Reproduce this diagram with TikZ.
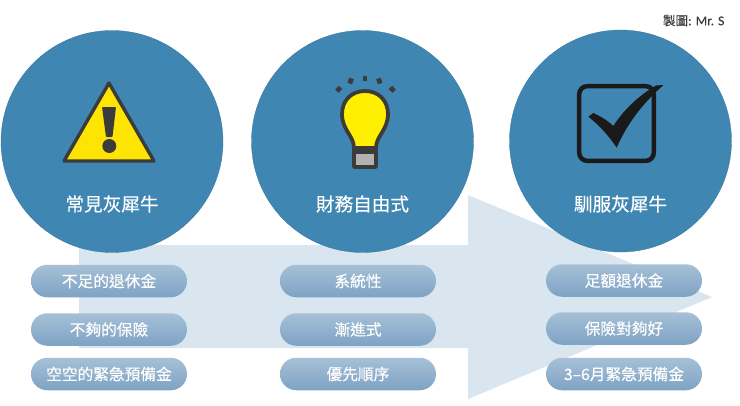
\documentclass[tikz,border=0pt]{standalone}
\usepackage{fontspec}
\setmainfont[FakeBold=0.25]{Noto Sans CJK TC}
\newfontfamily\latinf[FakeBold=0.2]{Carlito}
\definecolor{circ}{HTML}{3F87B2}
\definecolor{arrowc}{HTML}{DAE6EF}
\definecolor{pilltop}{HTML}{A6C0D7}
\definecolor{pillbot}{HTML}{7EA3C4}
\definecolor{ink}{HTML}{3B3B3B}
\definecolor{blk}{HTML}{1A1A1A}
\tikzset{
  bigcirc/.style={circle,fill=circ,draw=circ!85!black,line width=.3pt,minimum size=222pt,inner sep=0pt},
  title/.style={text=white,font=\fontsize{18.6pt}{20pt}\selectfont,inner sep=0pt},
  pill/.style={rounded corners=16.2pt,top color=pilltop,bottom color=pillbot,draw=none,minimum width=156pt,minimum height=32.5pt,inner sep=0pt,text=white,font=\fontsize{15.7pt}{18pt}\selectfont},
  credit/.style={text=ink,font=\fontsize{12.5pt}{14pt}\selectfont,inner sep=0pt}
}
\begin{document}
\begin{tikzpicture}[x=1pt,y=-1pt]
\useasboundingbox (0,0) rectangle (740,405);
\fill[white] (0,0) rectangle (740,405);
\fill[arrowc] (79,245) -- (468,245) -- (468,195) -- (712,297) -- (468,399) -- (468,348) -- (79,348) -- cycle;
\node[bigcirc] (c1) at (112,141.5) {};
\node[bigcirc] (c2) at (362.5,141.5) {};
\node[bigcirc] (c3) at (620.5,141) {};
% warning icon
\draw[fill=yellow!87!orange,draw=ink,line width=3.4pt,line join=round] (109,83) -- (154,161) -- (64,161) -- cycle;
\fill[ink,rounded corners=.8pt] (102,107) -- (116,107) -- (112.5,137) -- (106,137) -- cycle;
\fill[ink] (109.3,146) circle (7);
% bulb icon
\draw[fill=yellow!97!orange,draw=ink,line width=3.8pt,line join=round]
  (354,148) .. controls (354,136) and (342,130) .. (342,114)
  .. controls (342,100) and (352,91) .. (365,91)
  .. controls (378,91) and (388,100) .. (388,114)
  .. controls (388,130) and (376,136) .. (376,148) -- cycle;
\draw[fill=black!30,draw=ink,line width=3.8pt,line join=round] (354,152) rectangle (376,167);
\draw[ink,line width=3.8pt] (354,148) -- (354,153) (376,148) -- (376,153);
\foreach \xx/\yy/\aa in {338.7/89.3/-45,350.7/81/-20,365/78.7/0,379.3/81/20,392.3/89.3/45}
  \draw[ink,line width=4.8pt,rotate around={\aa:(\xx,\yy)}] (\xx,\yy-2.7) -- (\xx,\yy+2.7);
% check icon
\draw[blk,line width=4.5pt,rounded corners=8pt] (579.2,86.2) rectangle (653.8,160.8);
\fill[blk] (588.3,116.7) -- (593.3,113) .. controls (600,116) and (607,120) .. (613.3,126)
  .. controls (625,108) and (640,95) .. (656,85.5) -- (663.5,85)
  .. controls (642,104) and (627,124) .. (616.7,147.7)
  .. controls (609,136) and (599,125) .. (588.3,116.7) -- cycle;
% titles
\node[title] (t1) at (112,204) {常見灰犀牛};
\node[title] (t2) at (362.5,204) {財務自由式};
\node[title] (t3) at (620.5,204) {馴服灰犀牛};
% pills
\node[pill] (p11) at (109,281) {不足的退休金};
\node[pill] (p12) at (109,329.5) {不夠的保險};
\node[pill] (p13) at (109,374) {空空的緊急預備金};
\node[pill] (p21) at (358,281) {系統性};
\node[pill] (p22) at (358,329.5) {漸進式};
\node[pill] (p23) at (358,374) {優先順序};
\node[pill] (p31) at (624,280.5) {足額退休金};
\node[pill] (p32) at (624,328.5) {保險對夠好};
\node[pill] (p33) at (624,374) {3–6月緊急預備金};
\node[credit,anchor=east] (cr) at (724.5,20.5) {製圖{\latinf\fontsize{13.5pt}{14pt}\selectfont: Mr. S}};
\end{tikzpicture}
\end{document}
